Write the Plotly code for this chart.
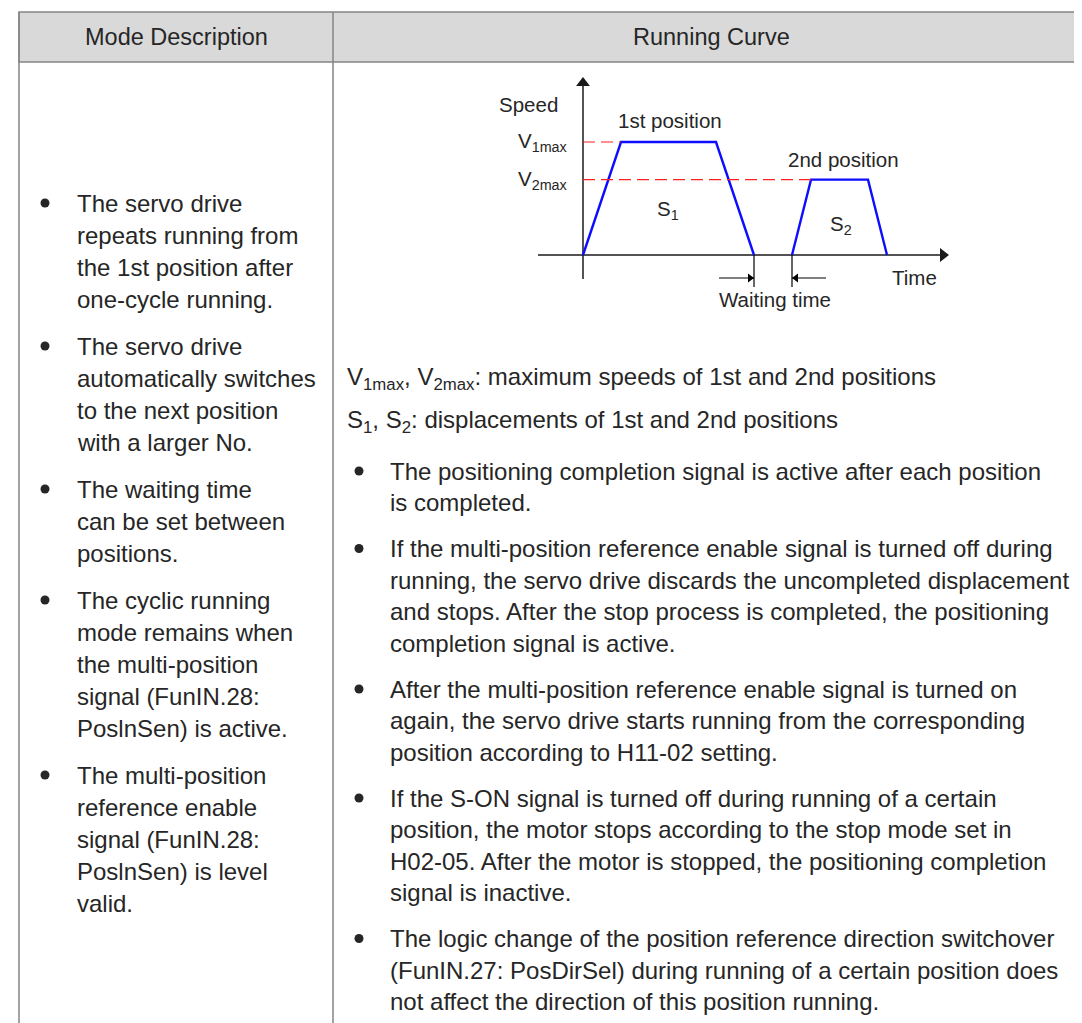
import plotly.graph_objects as go

# ---------------- data ----------------
header_labels = ["Mode Description", "Running Curve"]

# running curve (time units, speed units)
pos1_time = [0, 2, 7, 9]
pos1_speed = [0, 3, 3, 0]
pos2_time = [11, 12, 15, 16]
pos2_speed = [0, 2, 2, 0]
v_levels = [3, 2]
v_level_end_time = [2, 12]
v_level_labels = ["V<sub>1max</sub>", "V<sub>2max</sub>"]
wait_times = [9, 11]
curve_labels = ["Speed", "Time", "1st position", "2nd position",
                "S<sub>1</sub>", "S<sub>2</sub>", "Waiting time"]

left_bullets = [
    ["The servo drive", "repeats running from", "the 1st position after", "one-cycle running."],
    ["The servo drive", "automatically switches", "to the next position", "with a larger No."],
    ["The waiting time", "can be set between", "positions."],
    ["The cyclic running", "mode remains when", "the multi-position", "signal (FunIN.28:", "PoslnSen) is active."],
    ["The multi-position", "reference enable", "signal (FunIN.28:", "PoslnSen) is level", "valid."],
]
right_notes = [
    "V<sub>1max</sub>, V<sub>2max</sub>: maximum speeds of 1st and 2nd positions",
    "S<sub>1</sub>, S<sub>2</sub>: displacements of 1st and 2nd positions",
]
right_bullets = [
    ["The positioning completion signal is active after each position",
     "is completed."],
    ["If the multi-position reference enable signal is turned off during",
     "running, the servo drive discards the uncompleted displacement",
     "and stops. After the stop process is completed, the positioning",
     "completion signal is active."],
    ["After the multi-position reference enable signal is turned on",
     "again, the servo drive starts running from the corresponding",
     "position according to H11-02 setting."],
    ["If the S-ON signal is turned off during running of a certain",
     "position, the motor stops according to the stop mode set in",
     "H02-05. After the motor is stopped, the positioning completion",
     "signal is inactive."],
    ["The logic change of the position reference direction switchover",
     "(FunIN.27: PosDirSel) during running of a certain position does",
     "not affect the direction of this position running."],
]

# ---------------- layout constants ----------------
W, H = 1082, 1023
FONT = "Liberation Sans, Arial, sans-serif"
TXT = "#262626"
BODY = 24
GRID = "#858585"
LEFT_X = 11
COL_X = 325
HEAD_TOP, HEAD_BOT = 4, 54

# chart pixel geometry
ORX, ORY = 575, 247
PX_T, PX_V = 19.0, 113.0 / 3
CH_X0, CH_X1, CH_Y0, CH_Y1 = 470, 960, 50, 310


def t_of(px):
    return (px - ORX) / PX_T


def v_of(py):
    return (ORY - py) / PX_V


fig = go.Figure()


def chart_line(xs, ys, color, width, dash=None):
    fig.add_trace(go.Scatter(x=xs, y=ys, mode="lines", xaxis="x2", yaxis="y2",
                             line=dict(color=color, width=width, dash=dash),
                             hoverinfo="skip", showlegend=False))


def chart_head(x, y, symbol, size, color):
    fig.add_trace(go.Scatter(x=[x], y=[y], mode="markers", xaxis="x2", yaxis="y2",
                             marker=dict(symbol=symbol, size=size, color=color,
                                         line=dict(width=0)),
                             hoverinfo="skip", showlegend=False))


# axes with arrowheads
AX_C = "#1a1a1a"
chart_line([0, 0], [v_of(271), v_of(76)], AX_C, 1.5)
chart_head(0, v_of(75), "triangle-up", 12, AX_C)
chart_line([t_of(530), t_of(934)], [0, 0], AX_C, 1.5)
chart_head(t_of(935), 0, "triangle-right", 12, AX_C)

# curve traces
for tt, vv in [(pos1_time, pos1_speed), (pos2_time, pos2_speed)]:
    chart_line(tt, vv, "#0d0dff", 2.4)
for lv, te in zip(v_levels, v_level_end_time):
    chart_line([0, te], [lv, lv], "#ff2020", 1.2, "12px,6px")

# waiting-time markers
for wt in wait_times:
    chart_line([wt, wt], [0, v_of(279)], "#000000", 1.2)
chart_line([t_of(711), wait_times[0]], [v_of(270), v_of(270)], "#000000", 1)
chart_head(wait_times[0] - 4 / PX_T, v_of(270), "triangle-right", 8, "#000000")
chart_line([wait_times[1], t_of(818)], [v_of(270), v_of(270)], "#000000", 1)
chart_head(wait_times[1] + 4 / PX_T, v_of(270), "triangle-left", 8, "#000000")

ann = []
CF = 20.5
label_pos = {
    "Speed": (t_of(520), v_of(97)),
    "Time": (t_of(906), v_of(270)),
    "1st position": (t_of(662), v_of(113)),
    "2nd position": (t_of(835), v_of(152)),
    "S<sub>1</sub>": (t_of(660), v_of(202)),
    "S<sub>2</sub>": (t_of(833), v_of(217)),
    "Waiting time": (t_of(767), v_of(292)),
}
for lab in curve_labels:
    x, y = label_pos[lab]
    ann.append(dict(x=x, y=y, xref="x2", yref="y2", text=lab, showarrow=False, xanchor="center",
                    yanchor="middle", font=dict(family=FONT, size=CF, color=TXT)))
for lab, lv in zip(v_level_labels, v_levels):
    ann.append(dict(x=t_of(562), y=lv, xref="x2", yref="y2", text=lab, showarrow=False,
                    xanchor="right", yanchor="middle", font=dict(family=FONT, size=CF, color=TXT)))

# header
HC = (HEAD_TOP + HEAD_BOT) / 2
ann.append(dict(x=(LEFT_X + COL_X) / 2, y=HC, xref="x", yref="y", text=header_labels[0],
                showarrow=False, font=dict(family=FONT, size=23.5, color=TXT)))
ann.append(dict(x=(COL_X + W) / 2, y=HC, xref="x", yref="y",
                text=header_labels[1], showarrow=False, font=dict(family=FONT, size=23.5, color=TXT)))

bullet_x, bullet_y = [], []


def add_text(x, y, s, size=BODY):
    ann.append(dict(x=x, y=y, xref="x", yref="y", text=s, showarrow=False, xanchor="left",
                    yanchor="middle", font=dict(family=FONT, size=size, color=TXT)))


# left column
y = 195
for para in left_bullets:
    bullet_x.append(37)
    bullet_y.append(y)
    for ln in para:
        add_text(67, y, ln)
        y += 32
    y += 15

# right column
add_text(337, 370, right_notes[0])
add_text(337, 413, right_notes[1])
y = 463
for para in right_bullets:
    bullet_x.append(351)
    bullet_y.append(y)
    for ln in para:
        add_text(380, y, ln)
        y += 31.5
    y += 14.5

fig.add_trace(go.Scatter(x=bullet_x, y=bullet_y, mode="markers", xaxis="x", yaxis="y",
                         marker=dict(symbol="circle", size=9, color=TXT, line=dict(width=0)),
                         hoverinfo="skip", showlegend=False))

shapes = [
    dict(type="rect", xref="x", yref="y", x0=LEFT_X, x1=W + 5, y0=HEAD_TOP, y1=HEAD_BOT,
         fillcolor="#d9d9d9", line=dict(color=GRID, width=1.5), layer="below"),
    dict(type="line", xref="x", yref="y", x0=LEFT_X, x1=LEFT_X, y0=HEAD_TOP, y1=H + 5,
         line=dict(color=GRID, width=1.5)),
    dict(type="line", xref="x", yref="y", x0=COL_X, x1=COL_X, y0=HEAD_TOP, y1=H + 5,
         line=dict(color=GRID, width=1.5)),
]

fig.update_layout(
    width=W, height=H, margin=dict(l=0, r=0, t=0, b=0),
    paper_bgcolor="white", plot_bgcolor="rgba(0,0,0,0)",
    xaxis=dict(range=[0, W], domain=[0, 1], visible=False, fixedrange=True),
    yaxis=dict(range=[H, 0], domain=[0, 1], visible=False, fixedrange=True),
    xaxis2=dict(range=[t_of(CH_X0), t_of(CH_X1)], domain=[CH_X0 / W, CH_X1 / W],
                visible=False, anchor="y2", fixedrange=True),
    yaxis2=dict(range=[v_of(CH_Y1), v_of(CH_Y0)], domain=[1 - CH_Y1 / H, 1 - CH_Y0 / H],
                visible=False, anchor="x2", fixedrange=True),
    annotations=ann, shapes=shapes, showlegend=False,
)

fig.write_html("out.html")
